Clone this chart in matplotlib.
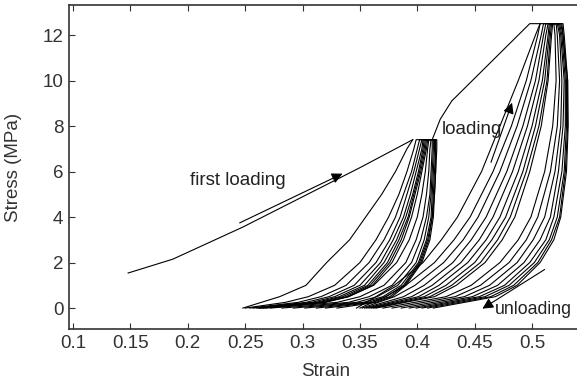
import matplotlib
matplotlib.use("Agg")
import matplotlib.pyplot as plt

plt.rcParams['font.family'] = ['Liberation Sans', 'DejaVu Sans']

# first (virgin) loading up to the first peak
first_loading_strain = [0.148, 0.187, 0.248, 0.300, 0.350, 0.396]
first_loading_stress = [1.54, 2.15, 3.56, 4.89, 6.17, 7.40]

# ---- cycles at 7.4 MPa: strain read at each stress level ----
g1_stress = [0, 0.25, 0.5, 1, 2, 3, 4, 5, 6, 7, 7.4]
g1_first_unload = [0.248, 0.264, 0.280, 0.303, 0.321, 0.341, 0.355, 0.369, 0.381, 0.391, 0.396]
g1_loading = [
    [0.250, 0.285, 0.305, 0.328, 0.350, 0.364, 0.375, 0.384, 0.391, 0.397, 0.399],
    [0.254, 0.296, 0.316, 0.338, 0.358, 0.371, 0.381, 0.388, 0.395, 0.400, 0.402],
    [0.257, 0.303, 0.323, 0.345, 0.364, 0.376, 0.385, 0.391, 0.397, 0.402, 0.404],
    [0.260, 0.308, 0.328, 0.350, 0.368, 0.379, 0.388, 0.394, 0.399, 0.404, 0.405],
    [0.262, 0.312, 0.332, 0.354, 0.371, 0.382, 0.390, 0.396, 0.401, 0.405, 0.406],
    [0.264, 0.315, 0.335, 0.357, 0.374, 0.384, 0.392, 0.397, 0.402, 0.406, 0.407],
    [0.266, 0.318, 0.338, 0.359, 0.376, 0.386, 0.393, 0.398, 0.403, 0.407, 0.408],
    [0.268, 0.320, 0.340, 0.361, 0.378, 0.388, 0.395, 0.400, 0.404, 0.408, 0.409],
]
g1_unloading = [
    [0.262, 0.318, 0.340, 0.362, 0.382, 0.393, 0.400, 0.404, 0.407, 0.409, 0.410],
    [0.272, 0.330, 0.350, 0.371, 0.390, 0.399, 0.405, 0.408, 0.410, 0.411, 0.412],
    [0.282, 0.340, 0.358, 0.378, 0.395, 0.403, 0.408, 0.411, 0.412, 0.413, 0.413],
    [0.292, 0.347, 0.365, 0.383, 0.399, 0.406, 0.410, 0.412, 0.413, 0.414, 0.414],
    [0.302, 0.353, 0.370, 0.386, 0.401, 0.408, 0.412, 0.413, 0.414, 0.415, 0.415],
    [0.312, 0.357, 0.373, 0.388, 0.402, 0.409, 0.413, 0.414, 0.415, 0.416, 0.416],
    [0.320, 0.361, 0.376, 0.389, 0.403, 0.410, 0.413, 0.415, 0.416, 0.416, 0.416],
    [0.330, 0.364, 0.378, 0.390, 0.404, 0.411, 0.414, 0.415, 0.416, 0.417, 0.417],
]

# loading from 7.4 MPa on to 12.5 MPa
transition_strain = [0.413, 0.420, 0.430, 0.498, 0.507]
transition_stress = [7.40, 8.30, 9.10, 12.50, 12.50]

# ---- cycles at 12.5 MPa ----
g2_stress = [0, 0.5, 1, 2, 3, 4, 6, 8, 10, 12, 12.5]
g2_first_unload = [0.347, 0.364, 0.380, 0.405, 0.421, 0.435, 0.456, 0.472, 0.488, 0.503, 0.507]
g2_loading = [
    [0.350, 0.372, 0.390, 0.415, 0.432, 0.446, 0.466, 0.482, 0.495, 0.505, 0.507],
    [0.352, 0.380, 0.398, 0.423, 0.440, 0.453, 0.472, 0.487, 0.499, 0.508, 0.510],
    [0.354, 0.388, 0.406, 0.431, 0.447, 0.460, 0.478, 0.492, 0.503, 0.510, 0.512],
    [0.356, 0.395, 0.413, 0.438, 0.454, 0.466, 0.483, 0.496, 0.506, 0.512, 0.514],
    [0.358, 0.401, 0.419, 0.444, 0.460, 0.472, 0.488, 0.500, 0.509, 0.514, 0.515],
    [0.360, 0.406, 0.425, 0.450, 0.465, 0.477, 0.492, 0.503, 0.511, 0.515, 0.516],
    [0.362, 0.411, 0.430, 0.455, 0.470, 0.481, 0.495, 0.506, 0.513, 0.516, 0.517],
    [0.364, 0.415, 0.434, 0.459, 0.474, 0.485, 0.498, 0.508, 0.514, 0.517, 0.518],
]
g2_unloading = [
    [0.370, 0.425, 0.447, 0.472, 0.488, 0.499, 0.511, 0.518, 0.521, 0.520, 0.519],
    [0.378, 0.433, 0.455, 0.480, 0.495, 0.505, 0.516, 0.522, 0.524, 0.522, 0.521],
    [0.386, 0.441, 0.463, 0.487, 0.501, 0.511, 0.520, 0.525, 0.526, 0.524, 0.522],
    [0.393, 0.448, 0.470, 0.493, 0.507, 0.516, 0.523, 0.527, 0.528, 0.525, 0.523],
    [0.399, 0.454, 0.476, 0.498, 0.512, 0.519, 0.526, 0.529, 0.529, 0.526, 0.524],
    [0.404, 0.459, 0.480, 0.502, 0.515, 0.522, 0.528, 0.530, 0.530, 0.527, 0.525],
    [0.409, 0.464, 0.484, 0.505, 0.517, 0.524, 0.529, 0.531, 0.531, 0.527, 0.526],
    [0.414, 0.468, 0.487, 0.507, 0.519, 0.525, 0.530, 0.5315, 0.531, 0.528, 0.527],
]

x_ticks = [0.1, 0.15, 0.2, 0.25, 0.3, 0.35, 0.4, 0.45, 0.5]
x_tick_labels = ['0.1', '0.15', '0.2', '0.25', '0.3', '0.35', '0.4', '0.45', '0.5']
y_ticks = [0, 2, 4, 6, 8, 10, 12]

fig = plt.figure(figsize=(5.77, 3.81), dpi=100)
ax = fig.add_axes([69 / 577, 52 / 381, 514 / 577, 324 / 381])

line_kw = dict(color='k', lw=0.8)

ax.plot(first_loading_strain, first_loading_stress, **line_kw)
ax.plot(g1_first_unload, g1_stress, **line_kw)
for up, down in zip(g1_loading, g1_unloading):
    ax.plot(up + down[::-1], g1_stress + g1_stress[::-1], **line_kw)

ax.plot(transition_strain, transition_stress, **line_kw)
ax.plot(g2_first_unload, g2_stress, **line_kw)
for up, down in zip(g2_loading, g2_unloading):
    ax.plot(up + down[::-1], g2_stress + g2_stress[::-1], **line_kw)

# annotations
txt_kw = dict(fontsize=13.5, color='#222222')
arrow_kw = dict(arrowstyle='-|>', color='k', lw=0.8, mutation_scale=16)
ax.text(0.202, 5.6, 'first loading', va='center', ha='left', **txt_kw)
ax.annotate('', xy=(0.337, 5.96), xytext=(0.243, 3.69), arrowprops=arrow_kw)
ax.text(0.421, 7.85, 'loading', va='center', ha='left', **txt_kw)
ax.annotate('', xy=(0.4834, 9.14), xytext=(0.4634, 6.29), arrowprops=arrow_kw)
ax.text(0.4675, -0.05, 'unloading', va='center', ha='left', clip_on=False,
        fontsize=12.8, color='#222222')
ax.annotate('', xy=(0.4547, -0.09), xytext=(0.513, 1.76), arrowprops=arrow_kw)

ax.set_xlim(0.0965, 0.5444)
ax.set_ylim(-0.92, 13.32)
ax.set_xticks(x_ticks)
ax.set_xticklabels(x_tick_labels)
ax.set_yticks(y_ticks)
ax.tick_params(direction='in', top=True, right=False, length=4, width=0.8,
               labelsize=13.5, labelcolor='#333333', color='#333333', pad=4)
for side in ['top', 'left', 'bottom']:
    ax.spines[side].set_color('#333333')
    ax.spines[side].set_linewidth(1.2)
ax.spines['right'].set_visible(False)

ax.set_xlabel('Strain', fontsize=13.5, color='#333333')
ax.set_ylabel('Stress (MPa)', fontsize=13.5, color='#333333')
ax.xaxis.set_label_coords(0.5, -0.105)
ax.yaxis.set_label_coords(-0.0914, 0.5)

fig.savefig('out.png', dpi=100)
